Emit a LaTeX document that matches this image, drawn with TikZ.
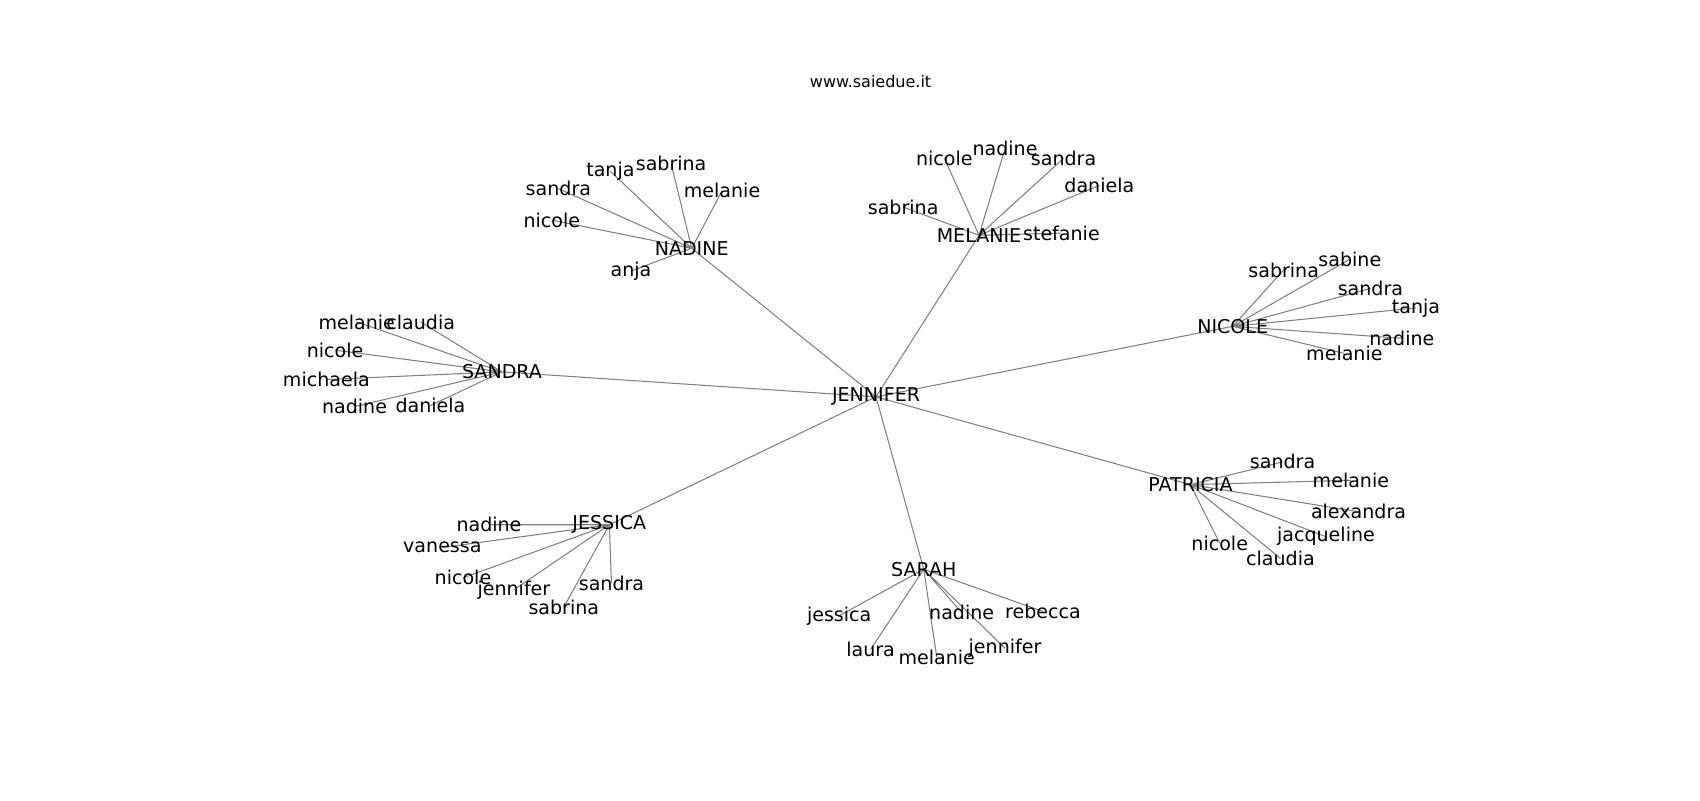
\documentclass[tikz,border=0pt]{standalone}
\usepackage{fontspec}
\setmainfont{DejaVu Sans}
\usetikzlibrary{backgrounds}
\begin{document}
\begin{tikzpicture}[x=0.02cm,y=-0.02cm,
        lab/.style={inner sep=0pt,font=\fontsize{10}{12}\selectfont},
        tie/.style={draw=gray,line width=0.55pt}]
        \useasboundingbox (0,0) rectangle (1568,738);
        \node (title) at (803,75) {\fontsize{8.4}{10}\selectfont www.saiedue.it};
        % centre and hubs
        \node[lab] (jennifer) at (808,366) {JENNIFER};
        \node[lab] (nadine) at (638,229) {NADINE};
        \node[lab] (melanie) at (903,217) {MELANIE};
        \node[lab] (nicole) at (1137,301) {NICOLE};
        \node[lab] (sandra) at (463,343) {SANDRA};
        \node[lab] (patricia) at (1098,447) {PATRICIA};
        \node[lab] (jessica) at (562,484) {JESSICA};
        \node[lab] (sarah) at (852,525) {SARAH};
        % NADINE
        \node[lab] (nad-nicole) at (509,203) {nicole};
        \node[lab] (nad-sandra) at (515,174) {sandra};
        \node[lab] (nad-tanja) at (563,158) {tanja};
        \node[lab] (nad-sabrina) at (619,151) {sabrina};
        \node[lab] (nad-melanie) at (666,176) {melanie};
        \node[lab] (nad-anja) at (582,250) {anja};
        % MELANIE
        \node[lab] (mel-nicole) at (871,146) {nicole};
        \node[lab] (mel-nadine) at (927,137) {nadine};
        \node[lab] (mel-sandra) at (981,146) {sandra};
        \node[lab] (mel-daniela) at (1014,171) {daniela};
        \node[lab] (mel-sabrina) at (833,191) {sabrina};
        \node[lab] (mel-stefanie) at (979,215) {stefanie};
        % NICOLE
        \node[lab] (nic-sabrina) at (1184,249) {sabrina};
        \node[lab] (nic-sabine) at (1245,239) {sabine};
        \node[lab] (nic-sandra) at (1264,266) {sandra};
        \node[lab] (nic-tanja) at (1306,284) {tanja};
        \node[lab] (nic-nadine) at (1293,312) {nadine};
        \node[lab] (nic-melanie) at (1240,326) {melanie};
        % SANDRA
        \node[lab] (san-melanie) at (329,297) {melanie};
        \node[lab] (san-claudia) at (388,297) {claudia};
        \node[lab] (san-nicole) at (309,323) {nicole};
        \node[lab] (san-michaela) at (301,350) {michaela};
        \node[lab] (san-nadine) at (327,375) {nadine};
        \node[lab] (san-daniela) at (397,374) {daniela};
        % PATRICIA
        \node[lab] (pat-sandra) at (1183,426) {sandra};
        \node[lab] (pat-melanie) at (1246,443) {melanie};
        \node[lab] (pat-alexandra) at (1253,472) {alexandra};
        \node[lab] (pat-jacqueline) at (1223,495) {jacqueline};
        \node[lab] (pat-nicole) at (1125,501) {nicole};
        \node[lab] (pat-claudia) at (1181,515) {claudia};
        % JESSICA
        \node[lab] (jes-nadine) at (451,484) {nadine};
        \node[lab] (jes-vanessa) at (408,505) {vanessa};
        \node[lab] (jes-nicole) at (427,533) {nicole};
        \node[lab] (jes-jennifer) at (474,544) {jennifer};
        \node[lab] (jes-sabrina) at (520,560) {sabrina};
        \node[lab] (jes-sandra) at (564,538) {sandra};
        % SARAH
        \node[lab] (sar-jessica) at (774,568) {jessica};
        \node[lab] (sar-laura) at (803,599) {laura};
        \node[lab] (sar-melanie) at (864,606) {melanie};
        \node[lab] (sar-nadine) at (887,565) {nadine};
        \node[lab] (sar-jennifer) at (927,598) {jennifer};
        \node[lab] (sar-rebecca) at (962,564) {rebecca};
        \begin{scope}[on background layer]
          \draw[tie] (jennifer.center) -- (nadine.center)
            (jennifer.center) -- (melanie.center)
            (jennifer.center) -- (nicole.center)
            (jennifer.center) -- (sandra.center)
            (jennifer.center) -- (patricia.center)
            (jennifer.center) -- (jessica.center)
            (jennifer.center) -- (sarah.center);
          \draw[tie] (nadine.center) -- (nad-nicole.center)
            (nadine.center) -- (nad-sandra.center)
            (nadine.center) -- (nad-tanja.center)
            (nadine.center) -- (nad-sabrina.center)
            (nadine.center) -- (nad-melanie.center)
            (nadine.center) -- (nad-anja.center);
          \draw[tie] (melanie.center) -- (mel-nicole.center)
            (melanie.center) -- (mel-nadine.center)
            (melanie.center) -- (mel-sandra.center)
            (melanie.center) -- (mel-daniela.center)
            (melanie.center) -- (mel-sabrina.center)
            (melanie.center) -- (mel-stefanie.center);
          \draw[tie] (nicole.center) -- (nic-sabrina.center)
            (nicole.center) -- (nic-sabine.center)
            (nicole.center) -- (nic-sandra.center)
            (nicole.center) -- (nic-tanja.center)
            (nicole.center) -- (nic-nadine.center)
            (nicole.center) -- (nic-melanie.center);
          \draw[tie] (sandra.center) -- (san-melanie.center)
            (sandra.center) -- (san-claudia.center)
            (sandra.center) -- (san-nicole.center)
            (sandra.center) -- (san-michaela.center)
            (sandra.center) -- (san-nadine.center)
            (sandra.center) -- (san-daniela.center);
          \draw[tie] (patricia.center) -- (pat-sandra.center)
            (patricia.center) -- (pat-melanie.center)
            (patricia.center) -- (pat-alexandra.center)
            (patricia.center) -- (pat-jacqueline.center)
            (patricia.center) -- (pat-nicole.center)
            (patricia.center) -- (pat-claudia.center);
          \draw[tie] (jessica.center) -- (jes-nadine.center)
            (jessica.center) -- (jes-vanessa.center)
            (jessica.center) -- (jes-nicole.center)
            (jessica.center) -- (jes-jennifer.center)
            (jessica.center) -- (jes-sabrina.center)
            (jessica.center) -- (jes-sandra.center);
          \draw[tie] (sarah.center) -- (sar-jessica.center)
            (sarah.center) -- (sar-laura.center)
            (sarah.center) -- (sar-melanie.center)
            (sarah.center) -- (sar-nadine.center)
            (sarah.center) -- (sar-jennifer.center)
            (sarah.center) -- (sar-rebecca.center);
        \end{scope}
\end{tikzpicture}
\end{document}
